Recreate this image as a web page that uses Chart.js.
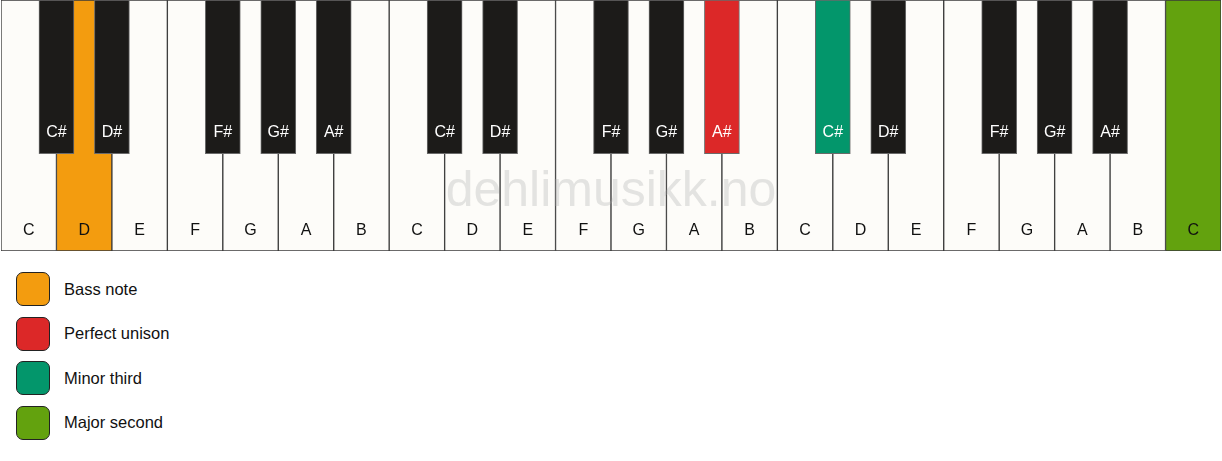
<!DOCTYPE html>
<html>
<head>
<meta charset="utf-8">
<script src="https://cdn.jsdelivr.net/npm/chart.js@4.4.0/dist/chart.umd.min.js"></script>
<style>
  html, body { margin: 0; padding: 0; background: #ffffff; }
  #wrap { position: relative; width: 1222px; height: 252px; }
  #legend { margin: 20px 0 0 16px; font-family: "Liberation Sans", Arial, sans-serif; font-size: 16.5px; color: #111; }
  .item { display: flex; align-items: center; height: 34px; margin-bottom: 10.5px; }
  .swatch { width: 32px; height: 32px; border: 1px solid #222; border-radius: 7px; margin-right: 14px; }
</style>
</head>
<body>
<div id="wrap"><canvas id="piano"></canvas></div>
<div id="legend"></div>
<script>
// Keyboard layout
const whiteNotes = ["C", "D", "E", "F", "G", "A", "B", "C", "D", "E", "F", "G", "A", "B", "C", "D", "E", "F", "G", "A", "B", "C"];
const blackNotes = ["C#", "D#", "F#", "G#", "A#", "C#", "D#", "F#", "G#", "A#", "C#", "D#", "F#", "G#", "A#"];
// black keys sit on the boundary between white keys
const blackBoundary = [1, 2, 4, 5, 6, 8, 9, 11, 12, 13, 15, 16, 18, 19, 20];

// Highlighted keys -> legend index
const whiteMarked = { 1: 0, 21: 3 };
const blackMarked = { 9: 1, 10: 2 };

const legendLabels = ["Bass note", "Perfect unison", "Minor third", "Major second"];
const legendColors = ["#f39c0f", "#dc2828", "#03966b", "#63a20e"];

const WHITE = "#fdfcf9";
const BLACK = "#1c1b19";
const BLACK_TOP = 0.388; // black key length as part of keyboard height

const keyW = 1220 / whiteNotes.length;

const whiteData = whiteNotes.map((n, i) => ({ x: i + 0.5, y: [0, 1] }));
const blackData = blackNotes.map((n, i) => ({ x: blackBoundary[i], y: [BLACK_TOP, 1] }));

const keyLabels = {
  id: "keyLabels",
  afterDatasetsDraw(chart) {
    const ctx = chart.ctx;
    const yScale = chart.scales.y;
    ctx.save();
    ctx.font = '16px "Liberation Sans", Arial, sans-serif';
    ctx.textAlign = "center";
    ctx.textBaseline = "alphabetic";
    chart.getDatasetMeta(0).data.forEach((bar, i) => {
      ctx.fillStyle = "#111";
      ctx.fillText(whiteNotes[i], bar.x, yScale.getPixelForValue(0.064));
    });
    chart.getDatasetMeta(1).data.forEach((bar, i) => {
      ctx.fillStyle = "#ffffff";
      ctx.fillText(blackNotes[i], bar.x, yScale.getPixelForValue(0.454));
    });
    // watermark
    ctx.font = '50px "Liberation Sans", Arial, sans-serif';
    ctx.fillStyle = "rgba(170,170,170,0.3)";
    ctx.fillText("dehlimusikk.no", chart.chartArea.left + chart.chartArea.width / 2, yScale.getPixelForValue(0.18));
    ctx.restore();
  },
};

const ctx = document.getElementById("piano").getContext("2d");
const piano = new Chart(ctx, {
  type: "bar",
  data: {
    datasets: [
      {
        label: "White keys",
        data: whiteData,
        backgroundColor: whiteNotes.map((n, i) => (i in whiteMarked ? legendColors[whiteMarked[i]] : WHITE)),
        borderColor: "#3a3a3a",
        borderWidth: 1,
        borderSkipped: false,
        barThickness: keyW,
        grouped: false,
        order: 2,
      },
      {
        label: "Black keys",
        data: blackData,
        backgroundColor: blackNotes.map((n, i) => (i in blackMarked ? legendColors[blackMarked[i]] : BLACK)),
        borderColor: "#6a6a6a",
        borderWidth: 1,
        borderSkipped: false,
        barThickness: 35,
        grouped: false,
        order: 1,
      },
    ],
  },
  options: {
    responsive: true,
    maintainAspectRatio: false,
    animation: false,
    layout: { padding: { left: 1, right: 1, top: 0, bottom: 1 } },
    scales: {
      x: { type: "linear", min: 0, max: 22, display: false, offset: false },
      y: { min: 0, max: 1, display: false },
    },
    plugins: {
      legend: { display: false },
      tooltip: { enabled: false },
    },
  },
  plugins: [keyLabels],
});

// Legend
const legendBox = document.getElementById("legend");
legendLabels.forEach((label, i) => {
  const item = document.createElement("div");
  item.className = "item";
  item.innerHTML = '<div class="swatch" style="background:' + legendColors[i] + '"></div><span>' + label + "</span>";
  legendBox.appendChild(item);
});
</script>
</body>
</html>
